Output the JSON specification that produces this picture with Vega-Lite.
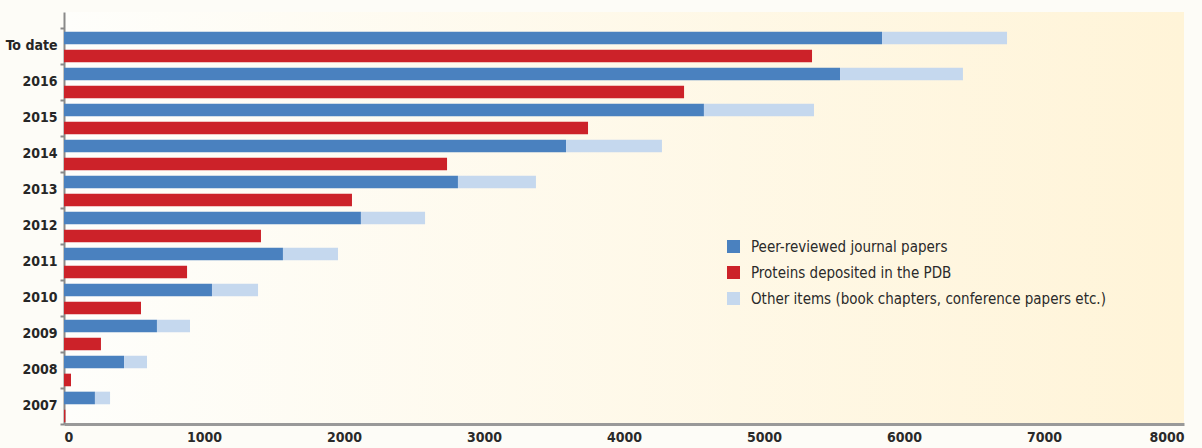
{
  "$schema": "https://vega.github.io/schema/vega-lite/v6.json",
  "width": 1120,
  "height": 412,
  "autosize": "none",
  "padding": {"left": 64, "top": 12, "right": 18, "bottom": 24},
  "background": "#FDFCF7",
  "config": {
    "font": "DejaVu Sans Condensed, Roboto, sans-serif",
    "view": {
      "stroke": null,
      "fill": {
        "gradient": "linear", "x1": 0, "y1": 0, "x2": 1, "y2": 0,
        "stops": [{"offset": 0, "color": "#FEFEFB"}, {"offset": 1, "color": "#FFF4D8"}]
      }
    }
  },
  "data": {
    "values": [
      {"year": "To date", "bar": "publications", "series": "Peer-reviewed journal papers", "value": 5843},
      {"year": "To date", "bar": "publications", "series": "Other items (book chapters, conference papers etc.)", "value": 893},
      {"year": "To date", "bar": "structures", "series": "Proteins deposited in the PDB", "value": 5343},
      {"year": "2016", "bar": "publications", "series": "Peer-reviewed journal papers", "value": 5543},
      {"year": "2016", "bar": "publications", "series": "Other items (book chapters, conference papers etc.)", "value": 878},
      {"year": "2016", "bar": "structures", "series": "Proteins deposited in the PDB", "value": 4429},
      {"year": "2015", "bar": "publications", "series": "Peer-reviewed journal papers", "value": 4571},
      {"year": "2015", "bar": "publications", "series": "Other items (book chapters, conference papers etc.)", "value": 786},
      {"year": "2015", "bar": "structures", "series": "Proteins deposited in the PDB", "value": 3743},
      {"year": "2014", "bar": "publications", "series": "Peer-reviewed journal papers", "value": 3586},
      {"year": "2014", "bar": "publications", "series": "Other items (book chapters, conference papers etc.)", "value": 685},
      {"year": "2014", "bar": "structures", "series": "Proteins deposited in the PDB", "value": 2736},
      {"year": "2013", "bar": "publications", "series": "Peer-reviewed journal papers", "value": 2814},
      {"year": "2013", "bar": "publications", "series": "Other items (book chapters, conference papers etc.)", "value": 557},
      {"year": "2013", "bar": "structures", "series": "Proteins deposited in the PDB", "value": 2057},
      {"year": "2012", "bar": "publications", "series": "Peer-reviewed journal papers", "value": 2121},
      {"year": "2012", "bar": "publications", "series": "Other items (book chapters, conference papers etc.)", "value": 458},
      {"year": "2012", "bar": "structures", "series": "Proteins deposited in the PDB", "value": 1407},
      {"year": "2011", "bar": "publications", "series": "Peer-reviewed journal papers", "value": 1564},
      {"year": "2011", "bar": "publications", "series": "Other items (book chapters, conference papers etc.)", "value": 393},
      {"year": "2011", "bar": "structures", "series": "Proteins deposited in the PDB", "value": 879},
      {"year": "2010", "bar": "publications", "series": "Peer-reviewed journal papers", "value": 1057},
      {"year": "2010", "bar": "publications", "series": "Other items (book chapters, conference papers etc.)", "value": 329},
      {"year": "2010", "bar": "structures", "series": "Proteins deposited in the PDB", "value": 550},
      {"year": "2009", "bar": "publications", "series": "Peer-reviewed journal papers", "value": 664},
      {"year": "2009", "bar": "publications", "series": "Other items (book chapters, conference papers etc.)", "value": 236},
      {"year": "2009", "bar": "structures", "series": "Proteins deposited in the PDB", "value": 264},
      {"year": "2008", "bar": "publications", "series": "Peer-reviewed journal papers", "value": 429},
      {"year": "2008", "bar": "publications", "series": "Other items (book chapters, conference papers etc.)", "value": 164},
      {"year": "2008", "bar": "structures", "series": "Proteins deposited in the PDB", "value": 50},
      {"year": "2007", "bar": "publications", "series": "Peer-reviewed journal papers", "value": 221},
      {"year": "2007", "bar": "publications", "series": "Other items (book chapters, conference papers etc.)", "value": 108},
      {"year": "2007", "bar": "structures", "series": "Proteins deposited in the PDB", "value": 10}
    ]
  },
  "mark": {"type": "bar"},
  "encoding": {
    "y": {
      "field": "year", "type": "nominal",
      "sort": ["To date", "2016", "2015", "2014", "2013", "2012", "2011", "2010", "2009", "2008", "2007"],
      "scale": {"paddingInner": 0, "paddingOuter": 0.222, "align": 1},
      "axis": {
        "title": null, "tickBand": "extent",
        "domainColor": "#8A8A8A", "domainWidth": 2,
        "tickColor": "#8A8A8A", "tickWidth": 2, "tickSize": 4,
        "labelFontSize": 14, "labelFontWeight": "bold", "labelColor": "#262626", "labelPadding": 3
      }
    },
    "yOffset": {
      "field": "bar", "type": "nominal", "sort": ["publications", "structures"],
      "scale": {"paddingInner": 0.3, "paddingOuter": 0.15, "align": 0.68}
    },
    "x": {
      "field": "value", "type": "quantitative", "stack": "zero",
      "scale": {"domain": [0, 8000], "nice": false},
      "axis": {
        "title": null, "grid": false, "ticks": false,
        "values": [0, 1000, 2000, 3000, 4000, 5000, 6000, 7000, 8000],
        "format": "d",
        "domainColor": "#999999", "domainWidth": 3,
        "labelFontSize": 14, "labelFontWeight": 600, "labelColor": "#2A2A2A", "labelPadding": 6, "labelDx": 3
      }
    },
    "color": {
      "field": "series", "type": "nominal",
      "scale": {
        "domain": ["Peer-reviewed journal papers", "Proteins deposited in the PDB", "Other items (book chapters, conference papers etc.)"],
        "range": ["#4A81BF", "#CC2229", "#C5D8EE"]
      },
      "legend": {
        "title": null, "orient": "none", "legendX": 662, "legendY": 227,
        "symbolType": "square", "symbolSize": 169, "symbolStrokeWidth": 0,
        "labelFontSize": 15, "labelColor": "#2A2A2A", "labelLimit": 500,
        "rowPadding": 10, "labelOffset": 10
      }
    },
    "order": {"field": "series", "sort": "descending"}
  }
}
